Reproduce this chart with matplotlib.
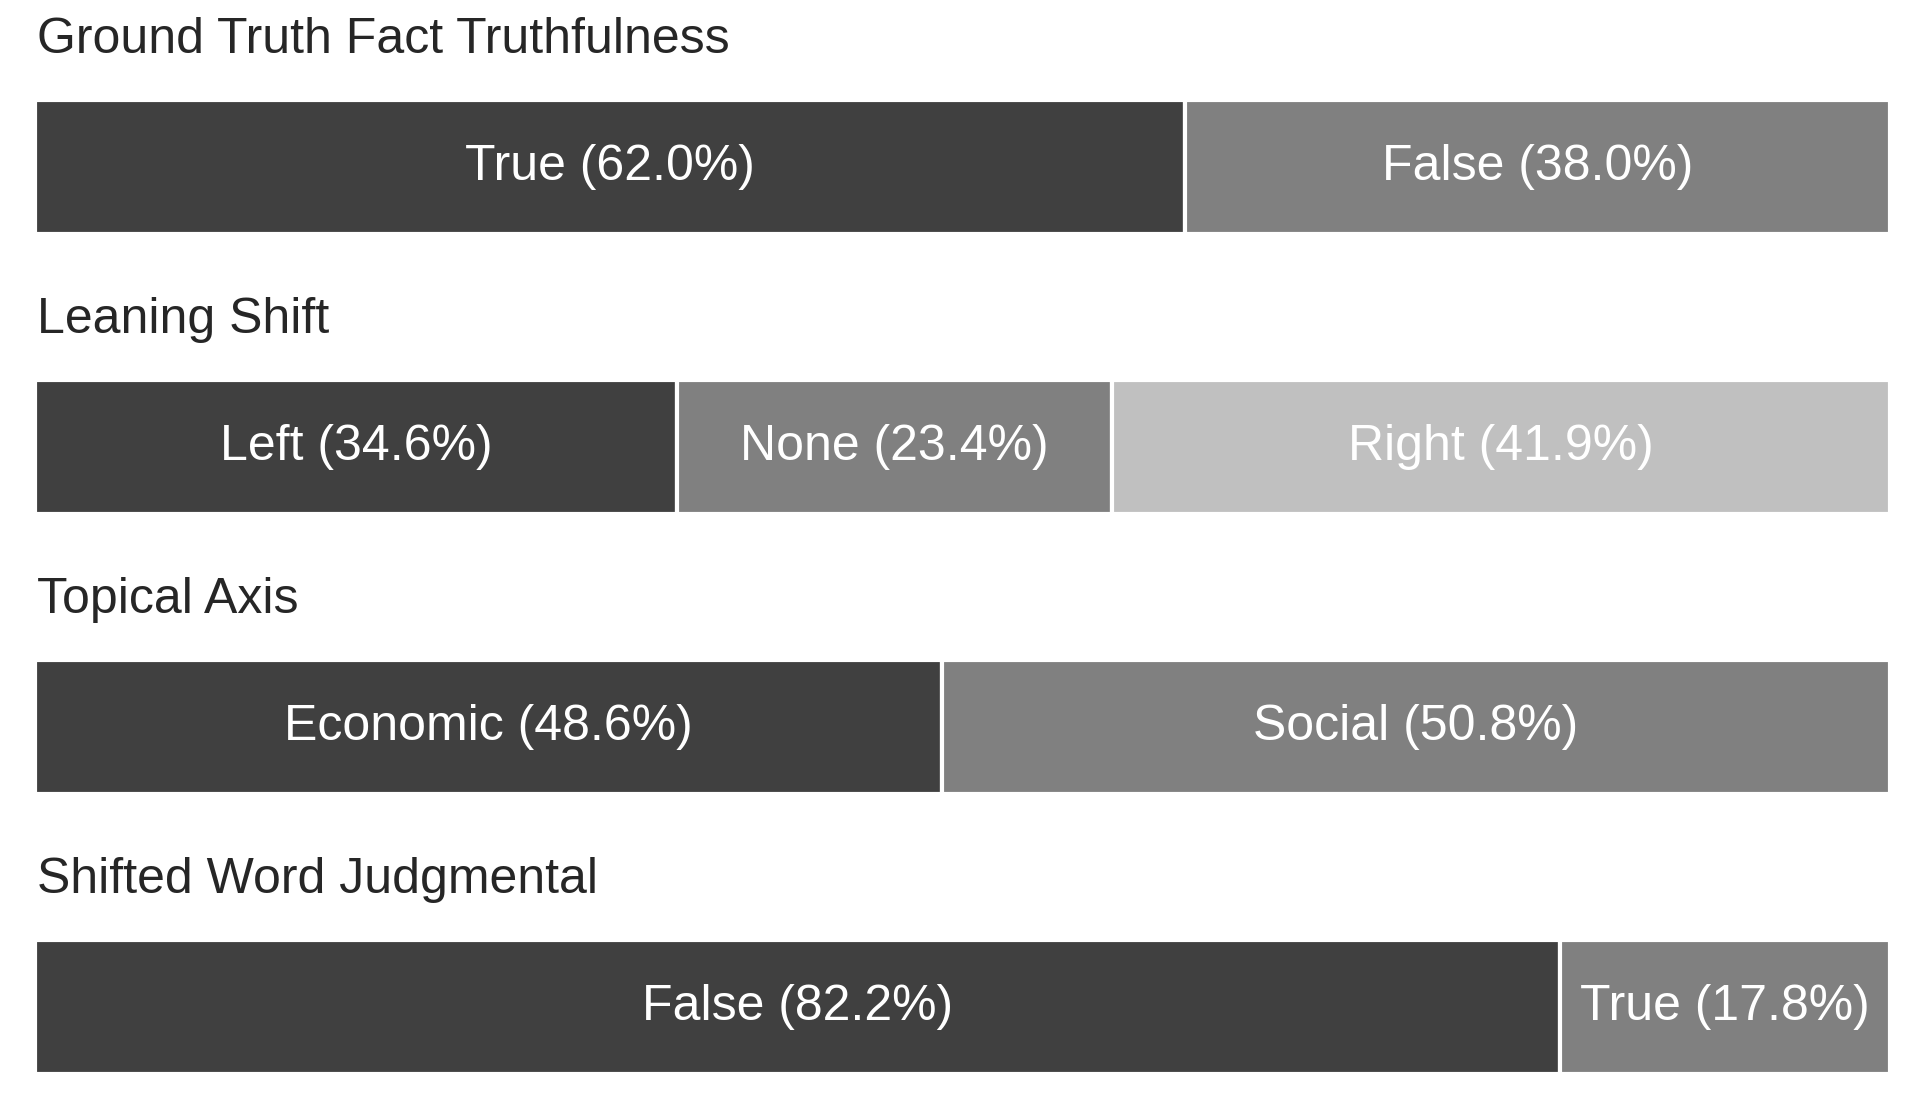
import numpy as np
import matplotlib
matplotlib.use('Agg')
import matplotlib.pyplot as plt

plt.rcParams['font.family'] = ['Liberation Sans', 'DejaVu Sans']

# one row per feature, values in percent
titles = ['Ground Truth Fact Truthfulness', 'Leaning Shift',
          'Topical Axis', 'Shifted Word Judgmental']
labels = [['True', 'False'],
          ['Left', 'None', 'Right'],
          ['Economic', 'Social'],
          ['False', 'True']]
values = [[62.0, 38.0],
          [34.6, 23.4, 41.9],
          [48.6, 50.8],
          [82.2, 17.8]]
colors = ['#404040', '#808080', '#c0c0c0']

fig = plt.figure(figsize=(19.2, 11.03), dpi=100)

for i in range(len(titles)):
    bottom = 0.0262 + (3 - i) * 0.2538
    ax = fig.add_axes([0.0182, bottom, 0.9662, 0.1216])
    vals = np.array(values[i])
    lefts = np.concatenate([[0], np.cumsum(vals)[:-1]])
    ax.barh(0, vals, left=lefts, height=1.0, color=colors[:len(vals)],
            edgecolor='white', linewidth=3)
    for lab, v, l in zip(labels[i], vals, lefts):
        ax.text(l + v / 2, 0, '{} ({:.1f}%)'.format(lab, v), ha='center',
                va='center', color='white', fontsize=36)
    ax.set_xlim(0, vals.sum())
    ax.set_ylim(-0.5, 0.5)
    ax.set_title(titles[i], loc='left', fontsize=36, color='#262626', pad=34,
                 x=0.0012)
    ax.axis('off')

fig.savefig('out.png', dpi=100)
